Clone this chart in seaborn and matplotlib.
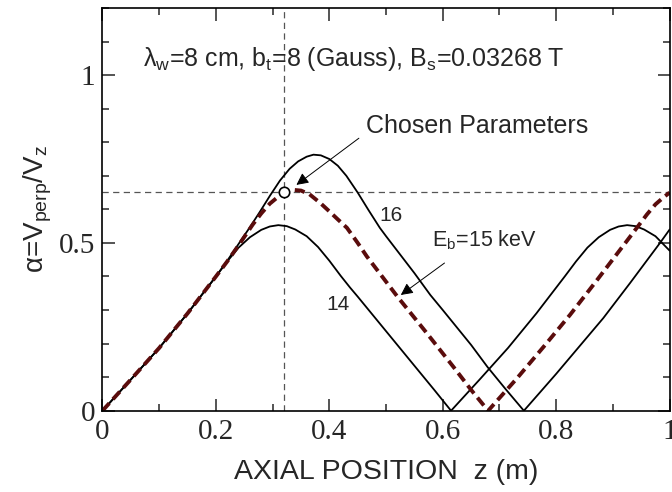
import matplotlib
matplotlib.use("Agg")
import matplotlib.pyplot as plt
import seaborn as sns
import pandas as pd
from matplotlib.ticker import MultipleLocator, FormatStrFormatter

# values
z14 = [0, 0.05, 0.10, 0.15, 0.20, 0.22, 0.24, 0.26, 0.28, 0.295, 0.31, 0.325, 0.34, 0.36, 0.38, 0.40,
       0.42, 0.4365, 0.45, 0.50, 0.55, 0.585, 0.6146,
       0.665, 0.715, 0.765, 0.815, 0.835, 0.855, 0.875, 0.895, 0.91, 0.925, 0.94, 0.955, 0.975, 1.0]
a14 = [0, 0.093, 0.187, 0.290, 0.400, 0.445, 0.486, 0.517, 0.539, 0.549, 0.553, 0.550, 0.540, 0.520, 0.488, 0.447,
       0.402, 0.367, 0.340, 0.237, 0.134, 0.062, 0,
       0.093, 0.187, 0.290, 0.400, 0.445, 0.486, 0.517, 0.539, 0.549, 0.553, 0.550, 0.540, 0.520, 0.477]

z15 = [0, 0.05, 0.10, 0.15, 0.20, 0.22, 0.24, 0.265, 0.28, 0.295, 0.31, 0.325, 0.337, 0.35, 0.365, 0.384,
       0.40, 0.415, 0.431, 0.45, 0.466, 0.52, 0.57, 0.62, 0.65, 0.68,
       0.71, 0.73, 0.78, 0.8245, 0.87, 0.93, 0.96, 0.975, 0.99, 1.0]
a15 = [0, 0.093, 0.187, 0.290, 0.400, 0.445, 0.493, 0.555, 0.588, 0.617, 0.638, 0.652, 0.658, 0.656, 0.645, 0.619,
       0.594, 0.570, 0.545, 0.500, 0.460, 0.340, 0.235, 0.128, 0.062, 0,
       0.057, 0.095, 0.195, 0.286, 0.385, 0.518, 0.585, 0.615, 0.637, 0.650]

z16 = [0, 0.05, 0.10, 0.15, 0.20, 0.22, 0.24, 0.26, 0.278, 0.295, 0.313, 0.33, 0.345, 0.36, 0.372, 0.385,
       0.40, 0.415, 0.43, 0.45, 0.469, 0.489, 0.50, 0.55, 0.578, 0.60, 0.65, 0.679, 0.71, 0.743,
       0.77, 0.80, 0.85, 0.883, 0.93, 0.96, 0.983, 1.0]
a16 = [0, 0.093, 0.187, 0.290, 0.400, 0.447, 0.497, 0.547, 0.594, 0.640, 0.686, 0.721, 0.743, 0.757, 0.763, 0.761,
       0.750, 0.730, 0.700, 0.650, 0.598, 0.545, 0.520, 0.410, 0.345, 0.300, 0.196, 0.130, 0.066, 0,
       0.052, 0.110, 0.210, 0.276, 0.380, 0.448, 0.500, 0.540]

z_chosen = 0.32
a_chosen = 0.651

sns.set_theme(style="ticks")
plt.rcParams["font.family"] = ["Liberation Sans", "DejaVu Sans"]
plt.rcParams["mathtext.fontset"] = "custom"
plt.rcParams["mathtext.rm"] = "Liberation Sans"
plt.rcParams["mathtext.it"] = "Liberation Sans:italic"

df14 = pd.DataFrame({"z": z14, "alpha": a14})
df15 = pd.DataFrame({"z": z15, "alpha": a15})
df16 = pd.DataFrame({"z": z16, "alpha": a16})

fig = plt.figure(figsize=(6.72, 4.92), dpi=100)
ax = fig.add_axes([0.1525, 0.1652, 0.844, 0.8185])

# reference lines for the chosen point
ax.axvline(z_chosen, color="#555555", lw=0.9, ls=(0, (5, 3.5)), zorder=1)
ax.axhline(a_chosen, color="#555555", lw=0.9, ls=(0, (5, 3.5)), zorder=1)

sns.lineplot(data=df14, x="z", y="alpha", sort=False, estimator=None, color="black", lw=1.3, ax=ax)
sns.lineplot(data=df16, x="z", y="alpha", sort=False, estimator=None, color="black", lw=1.3, ax=ax)
sns.lineplot(data=df15, x="z", y="alpha", sort=False, estimator=None, color="#5a0c0c", lw=2.8, ax=ax)
ax.lines[-1].set_linestyle((0, (2.6, 1.4)))

ax.plot([z_chosen], [a_chosen], "o", ms=7.5, mfc="white", mec="black", mew=1.2, zorder=5)

ax.set_xlim(0, 1)
ax.set_ylim(0, 1.2)
ax.xaxis.set_major_locator(MultipleLocator(0.2))
ax.xaxis.set_minor_locator(MultipleLocator(0.1))
ax.yaxis.set_major_locator(MultipleLocator(0.5))
ax.yaxis.set_minor_locator(MultipleLocator(0.1))
ax.xaxis.set_major_formatter(FormatStrFormatter("%g"))
ax.yaxis.set_major_formatter(FormatStrFormatter("%g"))
ax.tick_params(which="both", direction="in", top=True, right=True, width=1.1)
ax.tick_params(which="major", length=9)
ax.tick_params(which="minor", length=5)
ax.tick_params(axis="both", labelsize=21, labelfontfamily="Liberation Serif")
ax.tick_params(axis="x", pad=6)
ax.tick_params(axis="y", pad=5)
for s in ax.spines.values():
    s.set_linewidth(1.2)
    s.set_color("black")

ax.set_xlabel("AXIAL POSITION  z (m)", fontsize=20.5, labelpad=10)
ax.set_ylabel(r"α=V$_{\mathrm{perp}}$/V$_{\mathrm{z}}$", fontsize=20, labelpad=4)

ax.text(0.0714, 1.026, r"λ$_{\mathrm{w}}$=8 cm, b$_{\mathrm{t}}$=8 (Gauss), B$_{\mathrm{s}}$=0.03268 T",
        fontsize=18, va="baseline", ha="left")
ax.annotate("", xy=(0.338, 0.668), xytext=(0.456, 0.817),
            arrowprops=dict(arrowstyle="-|>", color="black", lw=0.7, mutation_scale=18))
ax.text(0.465, 0.829, "Chosen Parameters", fontsize=18, va="baseline", ha="left")
ax.annotate("", xy=(0.522, 0.340), xytext=(0.607, 0.445),
            arrowprops=dict(arrowstyle="-|>", color="black", lw=0.7, mutation_scale=18))
ax.text(0.581, 0.489, r"E$_{\mathrm{b}}$=15 keV", fontsize=15.5, va="baseline", ha="left")
ax.text(0.509, 0.564, "16", fontsize=15, va="baseline", ha="center")
ax.text(0.416, 0.301, "14", fontsize=15, va="baseline", ha="center")

fig.savefig("out.png", dpi=100)
